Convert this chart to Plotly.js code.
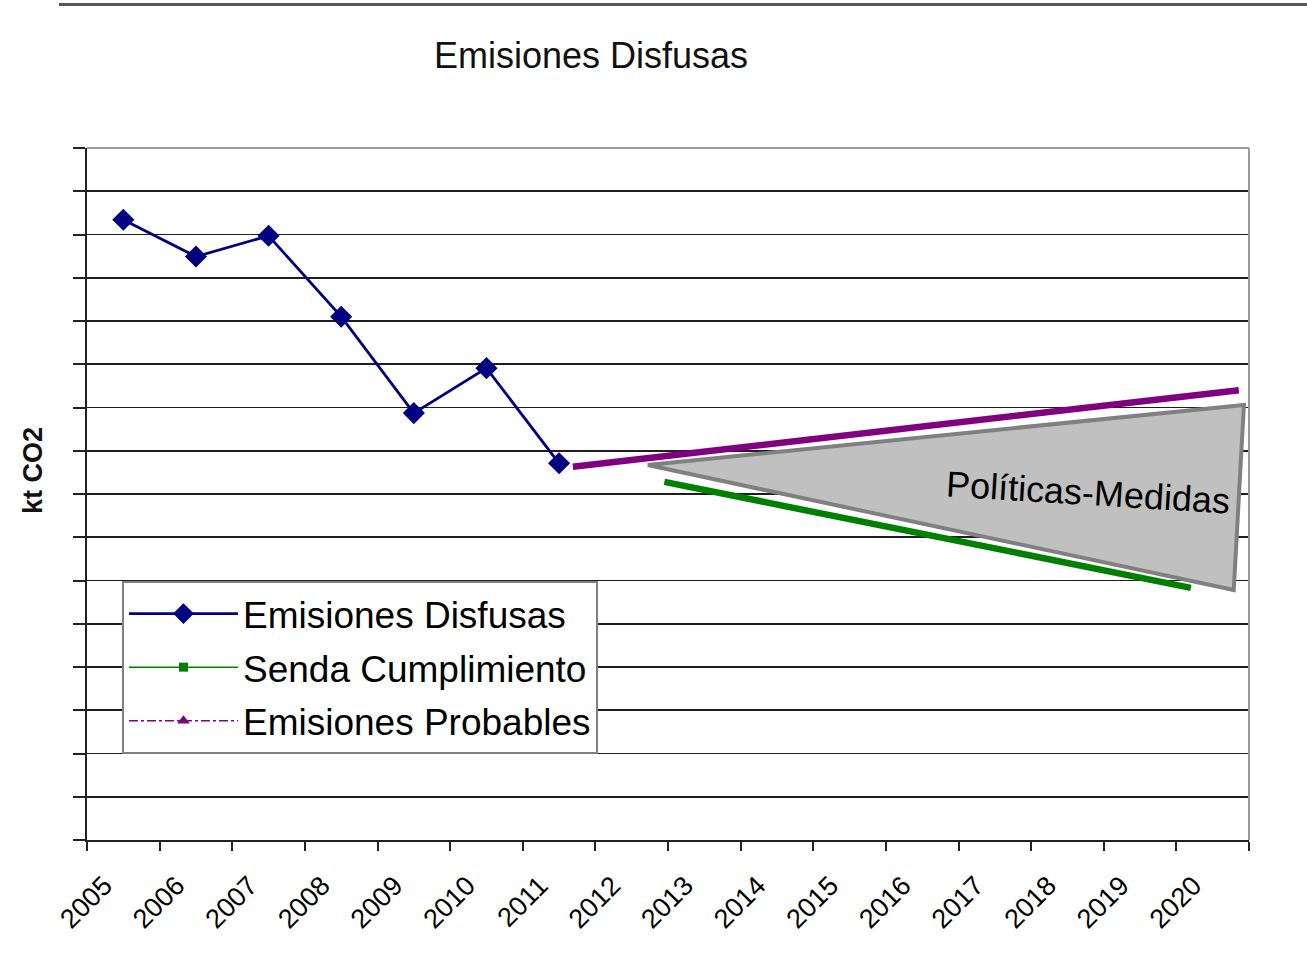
<!DOCTYPE html>
<html>
<head>
<meta charset="utf-8">
<script src="https://cdn.plot.ly/plotly-3.0.1.min.js"></script>
<style>
  html, body { margin: 0; padding: 0; background: #ffffff; }
  #chart { width: 1307px; height: 961px; }
</style>
</head>
<body>
<div id="chart"></div>
<script>
// ---- data (y in grid units) ----
const years = [2005, 2006, 2007, 2008, 2009, 2010, 2011, 2012, 2013, 2014, 2015, 2016, 2017, 2018, 2019, 2020];
const yearLabels = ["2005", "2006", "2007", "2008", "2009", "2010", "2011", "2012", "2013", "2014", "2015", "2016", "2017", "2018", "2019", "2020"];
const emisionesYears = [2005, 2006, 2007, 2008, 2009, 2010, 2011];
const emisionesDisfusas = [14.34, 13.49, 13.97, 12.10, 9.87, 10.91, 8.71];
const probablesX = [2011.19, 2020.36];
const probablesY = [8.63, 10.40];
const sendaX = [2012.45, 2019.70];
const sendaY = [8.28, 5.83];
const politicasX = [2012.22, 2020.43, 2020.29, 2012.22];
const politicasY = [8.67, 10.06, 5.78, 8.67];
const politicasLabel = "Políticas-Medidas";
const politicasLabelPos = [2018.28, 8.03];

const FONT = "'Liberation Sans', Arial, sans-serif";

const traces = [
  { // gray wedge
    x: politicasX, y: politicasY, type: 'scatter', mode: 'lines',
    fill: 'toself', fillcolor: '#c0c0c0',
    line: { color: '#808080', width: 4 }, showlegend: false, hoverinfo: 'skip'
  },
  { // thick projection lines
    x: probablesX, y: probablesY, type: 'scatter', mode: 'lines',
    line: { color: '#800080', width: 6.5 }, showlegend: false
  },
  {
    x: sendaX, y: sendaY, type: 'scatter', mode: 'lines',
    line: { color: '#008000', width: 6.5 }, showlegend: false
  },
  {
    name: 'Emisiones Disfusas', legendgroup: 'a',
    x: emisionesYears, y: emisionesDisfusas, type: 'scatter', mode: 'lines+markers',
    line: { color: '#000080', width: 2.8 },
    marker: { symbol: 'diamond', size: 17, color: '#000080' }
  },
  {
    name: 'Senda Cumplimiento', legendgroup: 'b',
    x: [null], y: [null], type: 'scatter', mode: 'lines+markers',
    line: { color: '#008000', width: 1.5 },
    marker: { symbol: 'square', size: 9, color: '#008000' }
  },
  {
    name: 'Emisiones Probables', legendgroup: 'c',
    x: [null], y: [null], type: 'scatter', mode: 'lines+markers',
    line: { color: '#800080', width: 1.5, dash: 'dashdot' },
    marker: { symbol: 'triangle-up', size: 11, color: '#800080' }
  }
];

const layout = {
  width: 1307, height: 961,
  margin: { l: 87, r: 58, t: 148, b: 121, pad: 0 },
  paper_bgcolor: '#ffffff', plot_bgcolor: '#ffffff',
  font: { family: FONT, color: '#000000' },
  showlegend: true,
  title: {
    text: 'Emisiones Disfusas',
    font: { family: FONT, size: 36, color: '#111111' },
    x: 0.4522, xanchor: 'center', y: 0.9428, yanchor: 'middle'
  },
  xaxis: {
    type: 'linear', range: [2004.5, 2020.5],
    tickmode: 'array', tickvals: years, ticktext: yearLabels,
    tickangle: -45, ticks: '', tickfont: { family: FONT, size: 27, color: '#000' },
    ticklabelstandoff: 17, ticklabelshift: -19,
    showgrid: false, zeroline: false,
    showline: true, linecolor: '#222222', linewidth: 2,
    minor: { tickmode: 'linear', tick0: 2004.5, dtick: 1, ticks: 'outside', ticklen: 9, tickwidth: 2, tickcolor: '#222222', showgrid: false },
    fixedrange: true
  },
  yaxis: {
    range: [0, 16], tickmode: 'linear', tick0: 0, dtick: 1,
    showticklabels: false, ticks: 'outside', ticklen: 12, tickwidth: 2, tickcolor: '#222222',
    showgrid: true, gridcolor: '#1e1e1e', gridwidth: 1.8,
    zeroline: false, showline: true, linecolor: '#222222', linewidth: 2,
    fixedrange: true
  },
  legend: {
    x: 0.0301, xanchor: 'left', y: 0.3743, yanchor: 'top',
    bgcolor: '#ffffff', bordercolor: '#808080', borderwidth: 2,
    font: { family: FONT, size: 37, color: '#000' },
    itemwidth: 109, tracegroupgap: 2.5, traceorder: 'grouped',
    itemclick: false, itemdoubleclick: false
  },
  shapes: [
    { type: 'line', xref: 'paper', yref: 'paper', x0: 0, x1: 1, y0: 1, y1: 1, line: { color: '#9a9a9a', width: 2 } },
    { type: 'line', xref: 'paper', yref: 'paper', x0: 1, x1: 1, y0: 0, y1: 1, line: { color: '#9a9a9a', width: 2 } },
    { type: 'line', xref: 'paper', yref: 'paper', x0: -0.0241, x1: 1.06, y0: 1.2074, y1: 1.2074, line: { color: '#555555', width: 3 } }
  ],
  annotations: [
    { text: '<b>kt CO2</b>', xref: 'paper', yref: 'paper', x: -0.0465, y: 0.5347,
      textangle: -90, showarrow: false, font: { family: FONT, size: 27, color: '#111' },
      xanchor: 'center', yanchor: 'middle' },
    { text: politicasLabel, xref: 'x', yref: 'y', x: politicasLabelPos[0], y: politicasLabelPos[1],
      textangle: 3.5, showarrow: false, font: { family: FONT, size: 36, color: '#000' },
      xanchor: 'center', yanchor: 'middle' }
  ]
};

Plotly.newPlot('chart', traces, layout, { displayModeBar: false, staticPlot: true });
</script>
</body>
</html>
